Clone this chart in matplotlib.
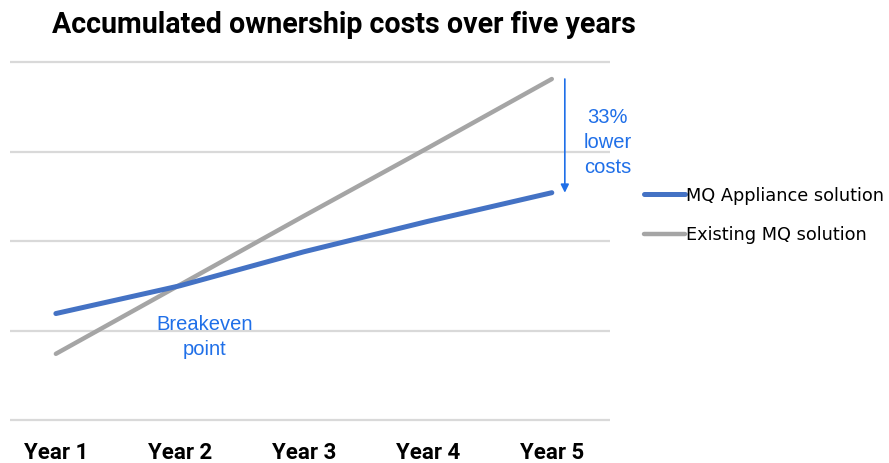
import matplotlib

matplotlib.use("Agg")
import matplotlib.pyplot as plt

# accumulated cost per year (arbitrary cost units)
years = ["Year 1", "Year 2", "Year 3", "Year 4", "Year 5"]
appliance_costs = [119, 150, 188, 222, 254]
existing_costs = [74, 151, 228, 304, 381]
series_names = ["MQ Appliance solution", "Existing MQ solution"]

BLUE = "#4472C4"
GRAY = "#A5A5A5"
NOTE = "#1F6FE8"
GRID = "#D9D9D9"
HEAD_FONT = ["Roboto", "DejaVu Sans"]

fig = plt.figure(figsize=(8.89, 4.63), dpi=100)
ax = fig.add_axes([0.01125, 0.0734, 0.675, 0.812])

x = list(range(1, len(years) + 1))
ax.plot(x, appliance_costs, color=BLUE, lw=3.6, solid_capstyle="round",
        label=series_names[0], zorder=3)
ax.plot(x, existing_costs, color=GRAY, lw=3.2, solid_capstyle="round",
        label=series_names[1], zorder=2)

ax.set_xlim(0.63, 5.47)
ax.set_ylim(-10, 410)
ax.set_yticks([0, 100, 200, 300, 400])
ax.yaxis.grid(True, color=GRID, lw=1.6)
ax.set_axisbelow(True)
ax.tick_params(axis="y", left=False, labelleft=False)
ax.tick_params(axis="x", bottom=False, pad=6)
ax.set_xticks(x)
ax.set_xticklabels(years, fontsize=16, fontweight="bold", family=HEAD_FONT)
for side in ax.spines.values():
    side.set_visible(False)

fig.text(0.058, 0.945, "Accumulated ownership costs over five years",
         fontsize=20.6, fontweight="bold", va="center", ha="left",
         family=HEAD_FONT)

# gap between the two solutions in the final year
ax.annotate("", xy=(5.105, appliance_costs[-1]), xytext=(5.105, existing_costs[-1]),
            arrowprops=dict(arrowstyle="-|>", color=NOTE, lw=1.2,
                            mutation_scale=12, shrinkA=0, shrinkB=0))
ax.text(5.45, 310, "33%\nlower\ncosts", color=NOTE, fontsize=14.5, ha="center",
        va="center", linespacing=1.4, family="Liberation Sans")
ax.text(2.2, 93, "Breakeven\npoint", color=NOTE, fontsize=14.5, ha="center",
        va="center", linespacing=1.4, family="Liberation Sans")

ax.legend(loc="center left", bbox_to_anchor=(0.706, 0.535),
          bbox_transform=fig.transFigure, frameon=False,
          handlelength=2.3, handletextpad=0.1, labelspacing=1.2,
          prop={"family": "DejaVu Sans", "size": 12.8})

fig.savefig("out.png", dpi=100)
